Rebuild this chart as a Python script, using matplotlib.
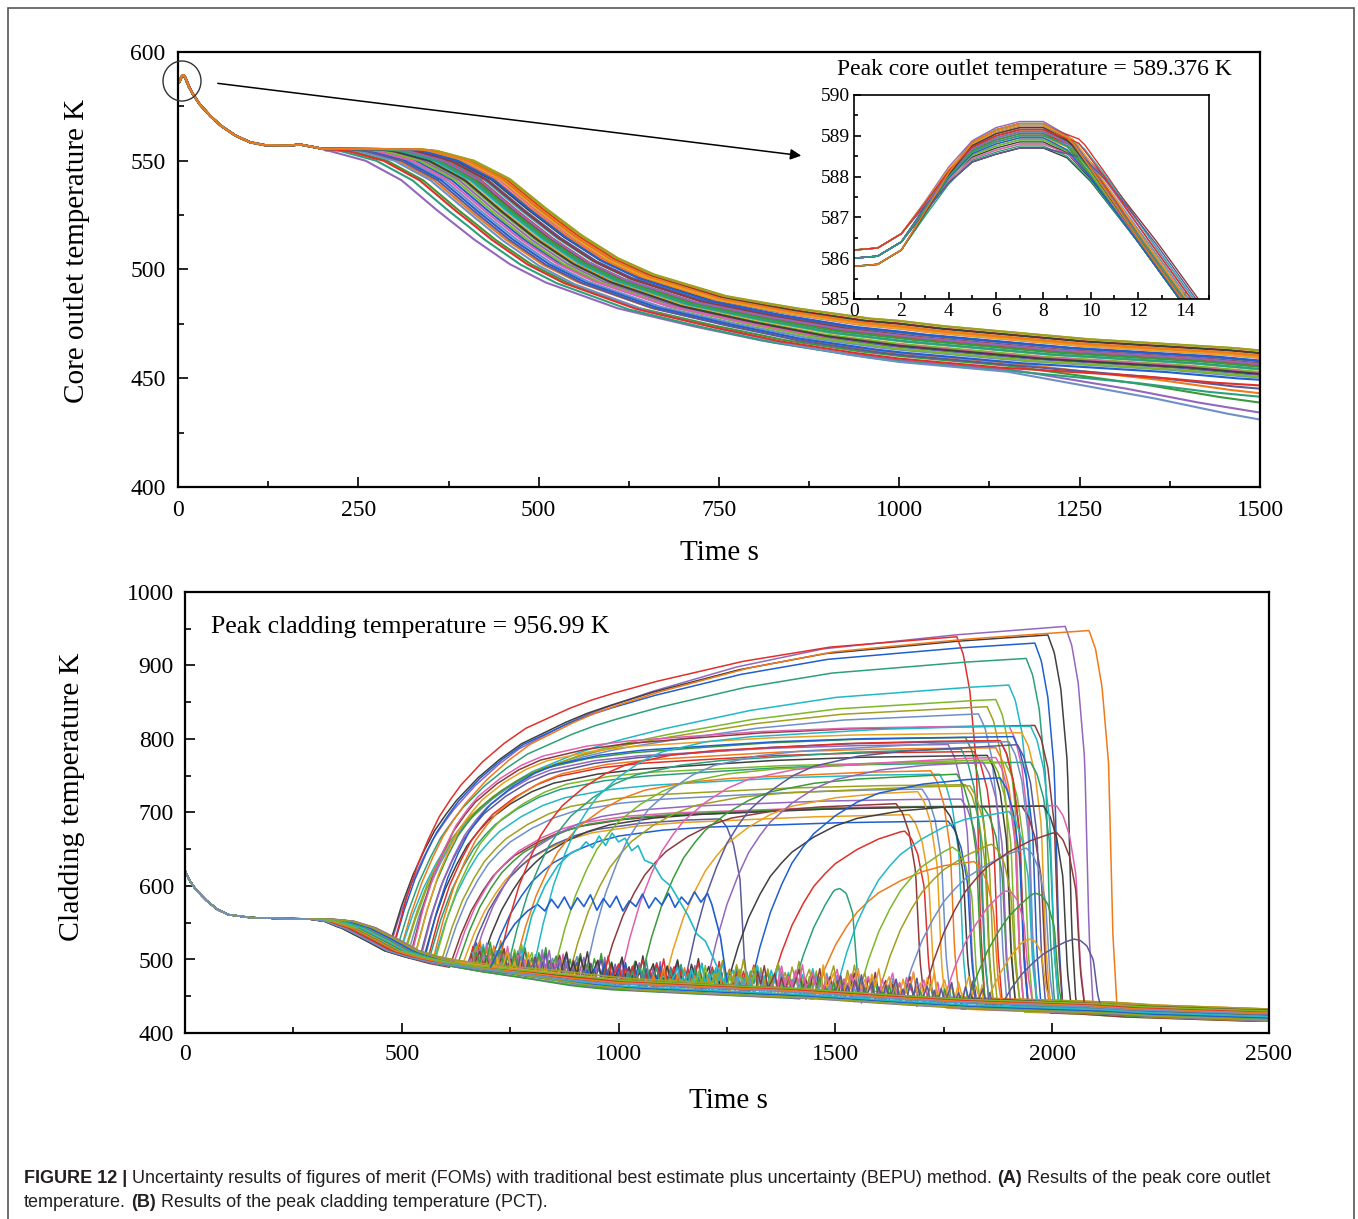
import numpy as np
import matplotlib
matplotlib.use("Agg")
import matplotlib.pyplot as plt
from matplotlib.patches import Ellipse, Rectangle, FancyArrowPatch
from matplotlib.ticker import MultipleLocator

plt.rcParams['font.family'] = ['Liberation Serif', 'DejaVu Serif']

W, H = 1358, 1219
nan = np.nan

# ---------------- (A) core outlet temperature ----------------
# first seconds (inset), middle run
head_t = [0, 1, 2, 3, 4, 5, 6, 7, 8, 9, 10, 11, 12, 13, 14, 15]
head_T = [586.0, 586.05, 586.4, 587.2, 588.0, 588.6, 588.85, 589.0, 589.0, 588.7, 588.0, 587.2, 586.4, 585.6, 584.8, 584.0]
start_w = [1, 1, 1, .6, .3, 0, 0, 0, 0, 0, 0, 0, 0, 0, 0, 0]
peak_w = [0, 0, 0, .2, .5, .8, 1, 1, 1, .8, .4, .2, 0, 0, 0, 0]
# until the common plateau
body_t = [20, 30, 45, 60, 80, 100, 120, 150, 170, 185, 200]
body_T = [581, 576, 570.5, 566, 561.5, 558.5, 557.2, 557.0, 557.4, 556.5, 555.5]
# decline of the middle run
fall_t = [200, 280, 300, 350, 400, 450, 500, 550, 600, 700, 800, 900, 1000, 1100, 1200, 1300, 1400, 1500, 1700]
fall_T = [555.5, 555.2, 554.5, 550, 541, 527, 514, 503, 495, 484, 477, 471, 467, 464, 461, 459, 457, 454, 450]
late_t, late_w = [400, 800, 1000], [0, 0.6, 1]
tail_t, tail_w = [1150, 1500], [0, 1]

# one entry per run
outlet_shift = [-90, 35, -20, 55, 10, -45, 25, -5, 60, -30, 15, 45, -60, 0, 30, -10, 50, -35,
                20, -75, 40, 5, -15, 58, -50, 28, -25, 12, 48, -40, 18, -2, 38, -65, 8, 52]
outlet_late = [-6, 5, -2, 6, 1, -4, 3, -1, 7, -3, 2, 4, -5, 0, 3, -2, 6, -4,
               1, -7, 5, 0, -3, 7, -8, 2, -1, 1, 4, -5, 2, -2, 3, -6, 0, 5]
outlet_tail = [-12, 0, 0, 0, 0, -6, 0, 0, 0, 0, 0, 0, -9, 0, 0, 0, 0, 0,
               0, -4, 0, 0, 0, 0, -14, 0, 0, 0, 0, -3, 0, 0, 0, 0, 0, 0]
outlet_d0 = [0.2, 0, -0.2, 0, 0.2, 0, -0.2, 0, 0.2, 0, 0, -0.2, 0.2, 0, 0, -0.2, 0.2, 0,
             0, -0.2, 0.2, 0, 0, -0.2, 0.2, 0, 0, -0.2, 0.2, 0, 0, -0.2, 0, 0.2, 0, -0.2]
outlet_dp = [0.35, -0.3, 0.1, 0.25, -0.1, 0.0, 0.3, -0.2, 0.15, 0.05, -0.3, 0.2, 0.1, -0.05, 0.3, 0.0, -0.15, 0.25,
             0.05, -0.25, 0.2, 0.1, -0.1, 0.3, 0.0, 0.15, -0.2, 0.05, 0.25, -0.3, 0.1, 0.2, -0.05, 0.15, 0.0, 0.3]
outlet_lag = [0.1, 0.0, 0.3, 0.6, 0.0, 0.2, 0.1, 0.4, 0.0, 0.2, 0.8, 0.1, 0.0, 0.3, 0.2, 0.5, 0.0, 0.1,
              0.3, 0.0, 0.2, 0.6, 0.1, 0.0, 0.4, 0.2, 0.1, 0.0, 0.3, 0.7, 0.2, 0.1, 0.0, 0.5, 0.2, 0.1]

# ---------------- (B) cladding temperature ----------------
base_t = [0, 10, 25, 50, 75, 100, 150, 200, 250, 300, 350, 400, 450, 500, 550, 600, 700, 800, 900,
          1000, 1200, 1400, 1600, 1800, 2000, 2100, 2200, 2300, 2500]
base_T = [621, 608, 595, 580, 568, 561, 557, 556, 555.5, 555, 552, 543, 528, 512, 503, 496, 487, 480, 472,
          466, 460, 455, 447, 440, 436, 434, 430, 428, 424]
cl_shift_t, cl_shift_w = [250, 350], [0, 1]
cl_late_t, cl_late_w = [500, 900], [0, 1]
rise_dt = [0, 25, 50, 75, 100, 125, 150, 200, 250, 300, 400, 500, 600, 800, 1000, 1600]
rise_f = [0, .2, .36, .48, .58, .65, .71, .79, .85, .89, .93, .95, .96, .98, .99, 1.0]
creep_dt = [0, 100, 200, 300, 450, 600, 800, 1000, 1300, 1600]
creep_f = [0, .16, .3, .42, .56, .67, .79, .88, .95, 1.0]
quench_dt = [0, 15, 30, 45, 55, 65]
quench_f = [1, 0.95, 0.85, 0.65, 0.2, 0]
spike_T = [0, 22, 3, 15, 31, 5, 18, 2, 26, 9, 34, 4, 12, 24, 1, 19, 0]

clad_start = [470, 475, 480, 485, 490, 495, 500, 505, 510, 515,
              520, 525, 530, 535, 540, 545, 550, 555, 560, 565,
              570, 575, 580, 590, 600, 610, 620, 630, 640, 650,
              660, 680, 700, 720, 740, 760, 800, 850, 880, 920,
              960, 1000, 1050, 1100, 1150, 1200, 1250, 1300, 1350, 1400,
              1450, 1500, 1550, 1600, 1650, 1700, 1750, 1800, 1850, 1880,
              nan, nan, nan, nan, nan, nan, nan, nan, nan, nan]
clad_level = [700, 720, 730, 760, 720, 720, 700, 720, 730, 740,
              790, 800, 780, 795, 770, 785, 760, 790, 775, 750,
              780, 740, 765, 730, 720, 700, 710, 705, 690, 700,
              720, 705, 690, 800, 780, 760, 820, 770, 740, 800,
              720, 780, 760, 740, 800, 780, 720, 760, 700, 700,
              650, 720, 700, 690, 680, 700, 660, 650, 600, 560,
              0, 0, 0, 0, 0, 0, 0, 0, 0, 0]
clad_creep = [255, 225, 205, 190, 195, 228, 180, 140, 120, 100,
              30, 20, 25, 15, 30, 10, 20, 15, 10, 20,
              10, 15, 5, 10, 15, 10, 0, 5, 10, 0,
              0, 5, 0, 0, 10, 0, 0, 5, 0, 0,
              0, 0, 0, 0, 0, 0, 0, 0, 0, 0,
              0, 0, 0, 0, 0, 0, 0, 0, 0, 0,
              0, 0, 0, 0, 0, 0, 0, 0, 0, 0]
clad_quench = [2030, 1990, 1960, 1780, 1940, 2085, 1900, 1870, 1850, 1830,
               1960, 1900, 1800, 1930, 1880, 1760, 1850, 1910, 1820, 1950,
               1870, 1740, 1890, 1800, 1700, 1930, 2010, 1840, 1670, 1235,
               1790, 1980, 1760, 1880, 1790, 1720, 1950, 1860, 1810, 1900,
               1640, 1870, 1780, 1690, 1920, 1840, 1750, 1880, 1660, 1495,
               1820, 1900, 1770, 1860, 1940, 2010, 1890, 1960, 1930, 2050,
               0, 0, 0, 0, 0, 0, 0, 0, 0, 0]
clad_shift = [-30, 20, -10, 35, 5, -25, 15, -40, 30, 0, -15, 25, -5, 40, -35, 10, -20, 30, -8, 18,
              -28, 8, 38, -12, 22, -38, 2, 28, -18, 12, -32, 36, -2, 16, -24, 26, -6, 34, -16, 6,
              -36, 24, -4, 14, -26, 32, -14, 4, -34, 20, -22, 10, -10, 30, -30, 0, 20, -20, 10, -10,
              40, -40, 25, -25, 15, -15, 5, -5, 35, -35]
clad_off = [-3, 4, -6, 2, 7, -1, 5, -8, 1, 6, -4, 3, -7, 8, 0, -2, 5, -5, 2, 6,
            -6, 1, 4, -3, 7, -8, 3, -1, 6, -4, 2, -7, 5, 0, -5, 8, -2, 4, -6, 1,
            3, -3, 6, -8, 2, -1, 7, -4, 5, 0, -6, 3, -2, 8, -5, 1, 4, -7, 6, -3,
            -8, 7, -4, 5, -6, 3, -2, 6, -7, 2]

# two runs with strong oscillation on the plateau
zz_blue_t = [705, 730, 760, 790, 813, 830, 845, 860, 875, 890, 905, 920, 935, 950, 965, 980, 995,
             1010, 1025, 1040, 1055, 1070, 1085, 1100, 1115, 1130, 1145, 1160, 1175, 1190, 1205, 1215, 1235, 1250]
zz_blue_T = [490, 520, 548, 566, 575, 566, 582, 570, 585, 568, 584, 572, 588, 567, 583, 571, 586,
             566, 580, 572, 589, 570, 584, 574, 590, 571, 585, 575, 592, 578, 590, 575, 530, 470]
zz_cyan_t = [775, 800, 830, 860, 890, 910, 925, 940, 955, 970, 985, 1000, 1015, 1030, 1045, 1060,
             1080, 1100, 1120, 1140, 1160, 1180, 1200, 1220, 1240]
zz_cyan_T = [500, 560, 600, 628, 645, 650, 660, 652, 668, 655, 672, 660, 665, 648, 655, 635,
             630, 610, 600, 580, 560, 535, 525, 500, 472]

palette = ['#9467bd', '#404040', '#1f5fcf', '#e0302a', '#2ca07a', '#f07a1a', '#22b8c8', '#7cb82a',
           '#a0a020', '#6f8fc8', '#8c3c3c', '#e060b0', '#3a9a3a', '#e8a020', '#5a5a9a']

for lst in (outlet_late, outlet_tail, outlet_d0, outlet_dp, outlet_lag):
    assert len(lst) == len(outlet_shift)
for lst in (clad_level, clad_creep, clad_quench, clad_shift, clad_off):
    assert len(lst) == len(clad_start)


def outlet_run(i, t):
    ht = np.array(head_t, float)
    ht = np.where(ht > 8, ht + outlet_lag[i], ht)
    hT = np.array(head_T) + outlet_d0[i] * np.array(start_w) + outlet_dp[i] * np.array(peak_w)
    y = np.interp(t, np.r_[ht, body_t], np.r_[hT, body_T])
    later = t > 200
    tl = t[later]
    y[later] = (np.interp(tl - outlet_shift[i], fall_t, fall_T)
                + outlet_late[i] * np.interp(tl, late_t, late_w)
                + outlet_tail[i] * np.interp(tl, tail_t, tail_w))
    return y


def clad_run(i, t):
    t_eff = t - clad_shift[i] * np.interp(t, cl_shift_t, cl_shift_w)
    base = np.interp(t_eff, base_t, base_T) + clad_off[i] * np.interp(t, cl_late_t, cl_late_w)
    ts = clad_start[i]
    if np.isnan(ts):
        return base
    y = base.copy()
    T0 = np.interp(ts, t, base)
    if ts >= 700:
        win = (t >= max(ts - 380, 660)) & (t < ts - 10)
        phase = (t[win] / 8.0 + i * 5) % 16
        y[win] += np.interp(phase, np.arange(17), spike_T)
    dt = t - ts
    heat = (T0 + (clad_level[i] - T0) * np.interp(dt, rise_dt, rise_f)
            + clad_creep[i] * np.interp(dt, creep_dt, creep_f))
    q = np.interp(t - clad_quench[i], quench_dt, quench_f)
    on = t >= ts
    y[on] = base[on] + (heat[on] - base[on]) * q[on]
    return y


def style(ax, size, pad, major=7, minor=4):
    ax.tick_params(which='both', direction='in', top=False, right=False, width=1.2, labelsize=size, pad=pad)
    ax.tick_params(which='major', length=major)
    ax.tick_params(which='minor', length=minor)
    for s in ax.spines.values():
        s.set_linewidth(1.6)


fig = plt.figure(figsize=(W / 100, H / 100), dpi=100)

# --- panel A ---
ax1 = fig.add_axes([178 / W, 1 - 487 / H, (1260 - 178) / W, (487 - 52) / H])
t1 = np.r_[np.arange(0, 15, 0.25), np.arange(15, 1501, 5.0)]
curves_a = [outlet_run(i, t1) for i in range(len(outlet_shift))]
for i, y in enumerate(curves_a):
    ax1.plot(t1, y, color=palette[i % len(palette)], lw=1.5)
ax1.set_xlim(0, 1500)
ax1.set_ylim(400, 600)
ax1.xaxis.set_major_locator(MultipleLocator(250))
ax1.xaxis.set_minor_locator(MultipleLocator(125))
ax1.yaxis.set_major_locator(MultipleLocator(50))
ax1.yaxis.set_minor_locator(MultipleLocator(25))
style(ax1, 17, 9)

# inset
axin = fig.add_axes([854 / W, 1 - 299 / H, (1209 - 854) / W, (299 - 95) / H])
for i, y in enumerate(curves_a):
    axin.plot(t1, y, color=palette[i % len(palette)], lw=1.0)
axin.set_xlim(0, 15)
axin.set_ylim(585, 590)
axin.xaxis.set_major_locator(MultipleLocator(2))
axin.xaxis.set_minor_locator(MultipleLocator(1))
axin.yaxis.set_major_locator(MultipleLocator(1))
axin.yaxis.set_minor_locator(MultipleLocator(0.5))
style(axin, 14, 3, major=5, minor=3)
for s in axin.spines.values():
    s.set_linewidth(1.2)
fig.text(1034 / W, 1 - 70 / H, 'Peak core outlet temperature = 589.376 K', fontsize=17,
         ha='center', va='center')

fig.add_artist(Ellipse((182 / W, 1 - 81 / H), 38 / W, 40 / H, transform=fig.transFigure,
                       fill=False, edgecolor='#333333', lw=1.0))
fig.add_artist(FancyArrowPatch((215 / W, 1 - 83 / H), (804 / W, 1 - 156 / H),
                               transform=fig.transFigure, arrowstyle='-|>',
                               mutation_scale=16, color='k', lw=1.1))

fig.text(77 / W, 1 - 251 / H, 'Core outlet temperature K', rotation=90, fontsize=21, ha='center', va='center')
fig.text(719 / W, 1 - 553 / H, 'Time s', fontsize=21, ha='center', va='center')

# --- panel B ---
ax2 = fig.add_axes([185 / W, 1 - 1033 / H, (1269 - 185) / W, (1033 - 592) / H])
t2 = np.arange(0, 2501, 2.0)
for i in range(len(clad_start)):
    ax2.plot(t2, clad_run(i, t2), color=palette[i % len(palette)], lw=1.1)
for zt, zT, c in ((zz_blue_t, zz_blue_T, '#1f5fcf'), (zz_cyan_t, zz_cyan_T, '#22b8c8')):
    ax2.plot(zt, zT, color=c, lw=1.2)
ax2.set_xlim(0, 2500)
ax2.set_ylim(400, 1000)
ax2.xaxis.set_major_locator(MultipleLocator(500))
ax2.xaxis.set_minor_locator(MultipleLocator(250))
ax2.yaxis.set_major_locator(MultipleLocator(100))
ax2.yaxis.set_minor_locator(MultipleLocator(50))
style(ax2, 17, 8)
fig.text(211 / W, 1 - 627 / H, 'Peak cladding temperature = 956.99 K', fontsize=18.5, ha='left', va='center')
fig.text(72 / W, 1 - 797 / H, 'Cladding temperature K', rotation=90, fontsize=21.5, ha='center', va='center')
fig.text(728 / W, 1 - 1101 / H, 'Time s', fontsize=21, ha='center', va='center')

# frame around the figure, open at the bottom
fig.add_artist(Rectangle((8 / W, -0.1), (1354 - 8) / W, 1 - 8 / H + 0.1, transform=fig.transFigure,
                         fill=False, edgecolor='#555555', lw=1.2, clip_on=False))

# caption
cap_font = ['Liberation Sans', 'DejaVu Sans']
line1 = [('FIGURE 12 |', True), ('Uncertainty results of figures of merit (FOMs) with traditional best estimate plus uncertainty (BEPU) method.', False),
         ('(A)', True), ('Results of the peak core outlet', False)]
line2 = [('temperature.', False), ('(B)', True), ('Results of the peak cladding temperature (PCT).', False)]
renderer = fig.canvas.get_renderer()


def width_of(s, size, bold):
    tx = fig.text(0, 0, s, fontsize=size, fontweight='bold' if bold else 'normal', family=cap_font)
    w = tx.get_window_extent(renderer).width
    tx.remove()
    return w


def line_width(parts, size):
    sp = width_of('a a', size, False) - width_of('aa', size, False)
    return sum(width_of(s, size, b) for s, b in parts) + sp * (len(parts) - 1)


cap_size = 12 * 1246 / line_width(line1, 12)


def caption_line(parts, x0, y0, size):
    sp = width_of('a a', size, False) - width_of('aa', size, False)
    x = x0
    for s, b in parts:
        tx = fig.text(x / W, 1 - y0 / H, s, fontsize=size, fontweight='bold' if b else 'normal',
                      family=cap_font, color='#231f20', va='baseline', ha='left')
        x += tx.get_window_extent(renderer).width + sp


caption_line(line1, 24, 1183, cap_size)
caption_line(line2, 24, 1207, cap_size)

fig.savefig('out.png', dpi=100)
